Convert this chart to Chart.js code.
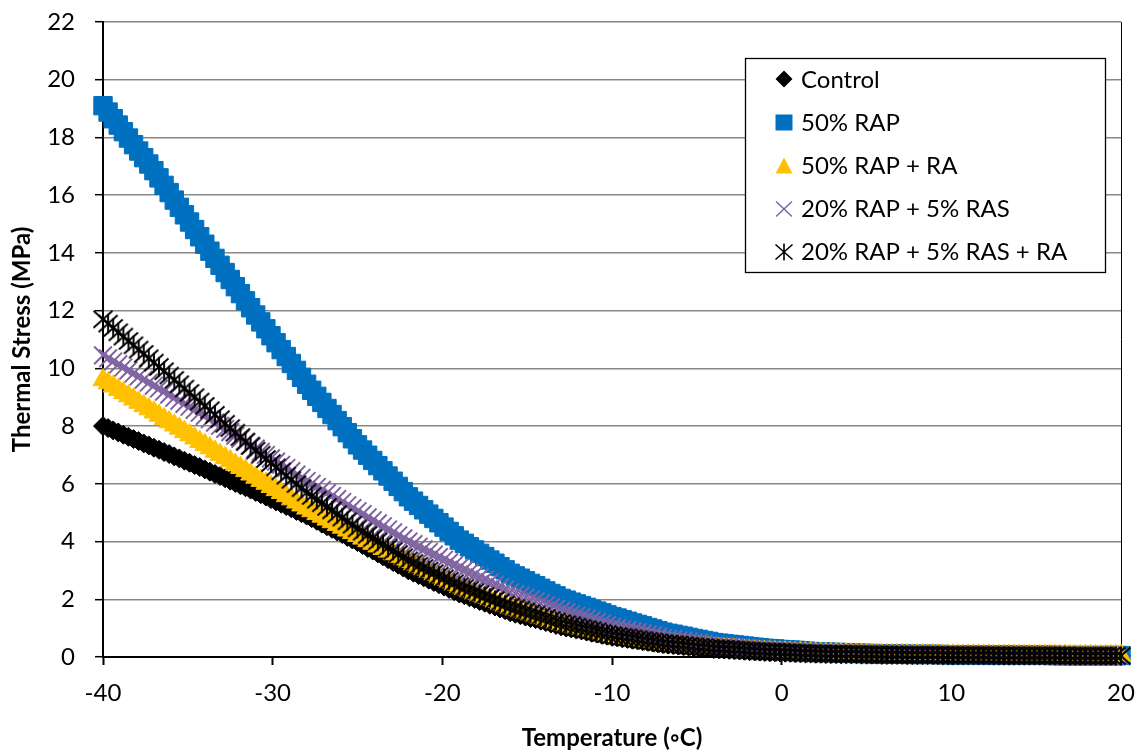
<!DOCTYPE html>
<html>
<head>
<meta charset="utf-8">
<script src="https://cdn.jsdelivr.net/npm/chart.js@4.4.1/dist/chart.umd.min.js"></script>
<style>
  html, body { margin: 0; padding: 0; background: #ffffff; }
  #wrap { width: 1141px; height: 754px; }
</style>
</head>
<body>
<div id="wrap"><canvas id="chart" width="1141" height="754"></canvas></div>
<script>
// Temperature (°C) sampling points shared by all mixes
const temperatures = [
  -40,-39.7,-39.4,-39.1,-38.8,-38.5,-38.2,-37.9,-37.6,-37.3,
  -37,-36.7,-36.4,-36.1,-35.8,-35.5,-35.2,-34.9,-34.6,-34.3,
  -34,-33.7,-33.4,-33.1,-32.8,-32.5,-32.2,-31.9,-31.6,-31.3,
  -31,-30.7,-30.4,-30.1,-29.8,-29.5,-29.2,-28.9,-28.6,-28.3,
  -28,-27.7,-27.4,-27.1,-26.8,-26.5,-26.2,-25.9,-25.6,-25.3,
  -25,-24.7,-24.4,-24.1,-23.8,-23.5,-23.2,-22.9,-22.6,-22.3,
  -22,-21.7,-21.4,-21.1,-20.8,-20.5,-20.2,-19.9,-19.6,-19.3,
  -19,-18.7,-18.4,-18.1,-17.8,-17.5,-17.2,-16.9,-16.6,-16.3,
  -16,-15.7,-15.4,-15.1,-14.8,-14.5,-14.2,-13.9,-13.6,-13.3,
  -13,-12.7,-12.4,-12.1,-11.8,-11.5,-11.2,-10.9,-10.6,-10.3,
  -10,-9.7,-9.4,-9.1,-8.8,-8.5,-8.2,-7.9,-7.6,-7.3,
  -7,-6.7,-6.4,-6.1,-5.8,-5.5,-5.2,-4.9,-4.6,-4.3,
  -4,-3.7,-3.4,-3.1,-2.8,-2.5,-2.2,-1.9,-1.6,-1.3,
  -1,-0.7,-0.4,-0.1,0.2,0.5,0.8,1.1,1.4,1.7,
  2,2.3,2.6,2.9,3.2,3.5,3.8,4.1,4.4,4.7,
  5,5.3,5.6,5.9,6.2,6.5,6.8,7.1,7.4,7.7,
  8,8.3,8.6,8.9,9.2,9.5,9.8,10.1,10.4,10.7,
  11,11.3,11.6,11.9,12.2,12.5,12.8,13.1,13.4,13.7,
  14,14.3,14.6,14.9,15.2,15.5,15.8,16.1,16.4,16.7,
  17,17.3,17.6,17.9,18.2,18.5,18.8,19.1,19.4,19.7,
  20
];

// Thermal stress (MPa) per mix
const controlStress = [
  8.0,7.93,7.85,7.78,7.7,7.63,7.55,7.48,7.4,7.33,
  7.25,7.18,7.1,7.03,6.95,6.88,6.8,6.73,6.65,6.58,
  6.5,6.42,6.34,6.27,6.19,6.11,6.03,5.95,5.88,5.8,
  5.72,5.64,5.56,5.47,5.39,5.31,5.23,5.15,5.06,4.98,
  4.9,4.81,4.72,4.62,4.53,4.44,4.35,4.26,4.16,4.07,
  3.98,3.88,3.78,3.69,3.59,3.49,3.39,3.29,3.2,3.1,
  3.0,2.92,2.84,2.76,2.68,2.6,2.52,2.44,2.36,2.28,
  2.2,2.14,2.07,2.01,1.94,1.88,1.81,1.75,1.68,1.62,
  1.55,1.5,1.45,1.4,1.35,1.31,1.26,1.21,1.16,1.11,
  1.06,1.02,0.99,0.95,0.92,0.88,0.84,0.81,0.77,0.74,
  0.7,0.68,0.65,0.63,0.6,0.58,0.55,0.53,0.5,0.48,
  0.45,0.43,0.42,0.4,0.38,0.37,0.35,0.33,0.31,0.3,
  0.28,0.27,0.26,0.25,0.24,0.23,0.22,0.21,0.2,0.19,
  0.18,0.17,0.17,0.16,0.16,0.15,0.14,0.14,0.13,0.13,
  0.12,0.12,0.11,0.11,0.11,0.1,0.1,0.1,0.1,0.09,
  0.09,0.09,0.09,0.08,0.08,0.08,0.08,0.08,0.07,0.07,
  0.07,0.07,0.07,0.07,0.07,0.06,0.06,0.06,0.06,0.06,
  0.06,0.06,0.06,0.06,0.06,0.05,0.05,0.05,0.05,0.05,
  0.05,0.05,0.05,0.05,0.05,0.05,0.05,0.05,0.05,0.05,
  0.04,0.04,0.04,0.04,0.04,0.04,0.04,0.04,0.04,0.04,
  0.04
];

const rap50Stress = [
  19.1,18.88,18.65,18.43,18.2,17.98,17.75,17.53,17.3,17.08,
  16.85,16.6,16.34,16.09,15.83,15.58,15.32,15.07,14.81,14.56,
  14.3,14.06,13.81,13.57,13.32,13.08,12.83,12.59,12.34,12.1,
  11.85,11.61,11.37,11.13,10.89,10.65,10.41,10.17,9.93,9.69,
  9.45,9.24,9.03,8.82,8.61,8.4,8.19,7.98,7.77,7.56,
  7.35,7.17,6.99,6.81,6.63,6.45,6.27,6.09,5.91,5.73,
  5.55,5.4,5.25,5.1,4.95,4.8,4.65,4.5,4.35,4.2,
  4.05,3.94,3.82,3.71,3.59,3.48,3.36,3.25,3.13,3.02,
  2.9,2.81,2.73,2.64,2.55,2.47,2.38,2.29,2.2,2.12,
  2.03,1.97,1.9,1.84,1.78,1.72,1.65,1.59,1.53,1.46,
  1.4,1.35,1.29,1.24,1.18,1.13,1.08,1.02,0.97,0.91,
  0.86,0.82,0.79,0.75,0.72,0.68,0.64,0.61,0.57,0.54,
  0.5,0.48,0.46,0.44,0.42,0.4,0.38,0.36,0.34,0.32,
  0.3,0.29,0.28,0.26,0.25,0.24,0.23,0.22,0.2,0.19,
  0.18,0.17,0.17,0.16,0.16,0.15,0.14,0.14,0.13,0.13,
  0.12,0.12,0.11,0.11,0.11,0.1,0.1,0.1,0.1,0.09,
  0.09,0.09,0.09,0.09,0.09,0.08,0.08,0.08,0.08,0.08,
  0.08,0.08,0.08,0.07,0.07,0.07,0.07,0.07,0.06,0.06,
  0.06,0.06,0.06,0.06,0.06,0.06,0.06,0.05,0.05,0.05,
  0.05,0.05,0.05,0.05,0.05,0.05,0.05,0.05,0.05,0.05,
  0.05
];

const rap50RaStress = [
  9.6,9.49,9.38,9.26,9.15,9.04,8.93,8.82,8.7,8.59,
  8.48,8.37,8.25,8.14,8.03,7.92,7.8,7.69,7.58,7.46,
  7.35,7.24,7.12,7.01,6.9,6.79,6.67,6.56,6.45,6.33,
  6.22,6.11,6.01,5.9,5.79,5.69,5.58,5.47,5.36,5.26,
  5.15,5.06,4.96,4.87,4.77,4.68,4.58,4.49,4.39,4.3,
  4.2,4.11,4.02,3.93,3.84,3.75,3.66,3.57,3.48,3.39,
  3.3,3.21,3.12,3.04,2.95,2.86,2.77,2.68,2.6,2.51,
  2.42,2.35,2.28,2.2,2.13,2.06,1.99,1.92,1.84,1.77,
  1.7,1.64,1.59,1.53,1.48,1.42,1.36,1.31,1.25,1.2,
  1.14,1.1,1.06,1.02,0.98,0.94,0.9,0.86,0.82,0.78,
  0.74,0.71,0.69,0.66,0.63,0.61,0.58,0.55,0.52,0.5,
  0.47,0.45,0.43,0.42,0.4,0.38,0.36,0.34,0.33,0.31,
  0.29,0.28,0.27,0.26,0.25,0.24,0.22,0.21,0.2,0.19,
  0.18,0.17,0.17,0.16,0.16,0.15,0.14,0.14,0.13,0.13,
  0.12,0.12,0.11,0.11,0.11,0.1,0.1,0.1,0.1,0.09,
  0.09,0.09,0.09,0.08,0.08,0.08,0.08,0.08,0.07,0.07,
  0.07,0.07,0.07,0.07,0.07,0.06,0.06,0.06,0.06,0.06,
  0.06,0.06,0.06,0.06,0.06,0.05,0.05,0.05,0.05,0.05,
  0.05,0.05,0.05,0.05,0.05,0.05,0.05,0.05,0.05,0.05,
  0.04,0.04,0.04,0.04,0.04,0.04,0.04,0.04,0.04,0.04,
  0.04
];

const rap20Ras5Stress = [
  10.45,10.35,10.24,10.14,10.03,9.93,9.82,9.72,9.61,9.51,
  9.4,9.3,9.19,9.09,8.98,8.88,8.77,8.67,8.56,8.46,
  8.35,8.24,8.12,8.01,7.9,7.79,7.67,7.56,7.45,7.33,
  7.22,7.11,7.0,6.88,6.77,6.66,6.55,6.44,6.32,6.21,
  6.1,6.0,5.89,5.79,5.68,5.58,5.47,5.37,5.26,5.16,
  5.05,4.95,4.84,4.74,4.63,4.53,4.42,4.32,4.21,4.11,
  4.0,3.91,3.82,3.73,3.64,3.55,3.46,3.37,3.28,3.19,
  3.1,3.02,2.93,2.85,2.76,2.68,2.59,2.51,2.42,2.34,
  2.25,2.19,2.12,2.06,1.99,1.93,1.86,1.8,1.73,1.67,
  1.6,1.55,1.49,1.44,1.38,1.33,1.27,1.22,1.16,1.11,
  1.05,1.01,0.97,0.93,0.89,0.86,0.82,0.78,0.74,0.7,
  0.66,0.63,0.61,0.58,0.56,0.53,0.5,0.48,0.45,0.43,
  0.4,0.39,0.37,0.36,0.34,0.33,0.31,0.3,0.28,0.27,
  0.25,0.24,0.23,0.22,0.21,0.21,0.2,0.19,0.18,0.17,
  0.16,0.16,0.15,0.15,0.14,0.14,0.13,0.13,0.12,0.12,
  0.11,0.11,0.11,0.1,0.1,0.1,0.1,0.1,0.09,0.09,
  0.09,0.09,0.09,0.08,0.08,0.08,0.08,0.08,0.07,0.07,
  0.07,0.07,0.07,0.07,0.07,0.06,0.06,0.06,0.06,0.06,
  0.05,0.05,0.05,0.05,0.05,0.05,0.05,0.05,0.05,0.05,
  0.04,0.04,0.04,0.04,0.04,0.04,0.04,0.04,0.04,0.04,
  0.04
];

const rap20Ras5RaStress = [
  11.7,11.55,11.4,11.25,11.1,10.95,10.8,10.65,10.5,10.35,
  10.2,10.05,9.9,9.75,9.6,9.45,9.3,9.15,9.0,8.85,
  8.7,8.55,8.39,8.24,8.08,7.93,7.77,7.62,7.46,7.31,
  7.15,7.01,6.86,6.72,6.57,6.43,6.28,6.14,5.99,5.85,
  5.7,5.58,5.45,5.33,5.2,5.08,4.95,4.83,4.7,4.58,
  4.45,4.34,4.23,4.12,4.01,3.9,3.79,3.68,3.57,3.46,
  3.35,3.26,3.17,3.09,3.0,2.91,2.82,2.73,2.65,2.56,
  2.47,2.4,2.33,2.25,2.18,2.11,2.04,1.97,1.89,1.82,
  1.75,1.69,1.64,1.58,1.52,1.47,1.41,1.35,1.29,1.24,
  1.18,1.14,1.1,1.05,1.01,0.97,0.93,0.89,0.84,0.8,
  0.76,0.73,0.7,0.68,0.65,0.62,0.59,0.56,0.54,0.51,
  0.48,0.46,0.44,0.43,0.41,0.39,0.37,0.35,0.34,0.32,
  0.3,0.29,0.28,0.27,0.26,0.25,0.23,0.22,0.21,0.2,
  0.19,0.18,0.18,0.17,0.16,0.16,0.15,0.14,0.13,0.13,
  0.12,0.12,0.11,0.11,0.11,0.1,0.1,0.1,0.1,0.09,
  0.09,0.09,0.09,0.08,0.08,0.08,0.08,0.08,0.07,0.07,
  0.07,0.07,0.07,0.07,0.07,0.06,0.06,0.06,0.06,0.06,
  0.06,0.06,0.06,0.06,0.06,0.05,0.05,0.05,0.05,0.05,
  0.05,0.05,0.05,0.05,0.05,0.05,0.05,0.05,0.05,0.05,
  0.04,0.04,0.04,0.04,0.04,0.04,0.04,0.04,0.04,0.04,
  0.04
];

const seriesNames = ['Control', '50% RAP', '50% RAP + RA', '20% RAP + 5% RAS', '20% RAP + 5% RAS + RA'];
const xTicks = [-40, -30, -20, -10, 0, 10, 20];
const yTicks = [0, 2, 4, 6, 8, 10, 12, 14, 16, 18, 20, 22];

const FONT = 'Lato, "Open Sans", "Liberation Sans", sans-serif';
const COLORS = { control: '#000000', rap50: '#0070C0', rap50Ra: '#FFC000', rap20: '#8064A2', rap20Ra: '#000000' };

// Six-armed star marker (X plus a vertical bar)
function asteriskMarker(color, size, lw) {
  const c = document.createElement('canvas');
  c.width = size; c.height = size;
  const g = c.getContext('2d');
  const m = size / 2, a = m - 1.5, b = m - 2.5;
  g.strokeStyle = color;
  g.lineWidth = lw;
  g.beginPath();
  g.moveTo(m - a, m - b); g.lineTo(m + a, m + b);
  g.moveTo(m - a, m + b); g.lineTo(m + a, m - b);
  g.moveTo(m, m - a); g.lineTo(m, m + a);
  g.stroke();
  return c;
}
const starImg = asteriskMarker(COLORS.rap20Ra, 22, 1.9);
const starLegend = asteriskMarker(COLORS.rap20Ra, 20, 1.6);

function toPoints(values) {
  const pts = [];
  for (let i = 0; i < Math.min(values.length, temperatures.length); i++) {
    pts.push({ x: temperatures[i], y: values[i] });
  }
  return pts;
}

// Plot-area right border, drawn beneath the markers
const frameBorder = {
  id: 'frameBorder',
  beforeDatasetsDraw(chart) {
    const { ctx, chartArea: a } = chart;
    ctx.save();
    ctx.strokeStyle = '#000';
    ctx.lineWidth = 1;
    ctx.beginPath();
    ctx.moveTo(Math.round(a.right) + 0.5, a.top);
    ctx.lineTo(Math.round(a.right) + 0.5, a.bottom);
    ctx.stroke();
    ctx.restore();
  }
};

// Boxed legend in the upper right of the plot
const boxLegend = {
  id: 'boxLegend',
  afterDraw(chart) {
    const ctx = chart.ctx;
    const bx = 745, by = 58, bw = 360, bh = 214;
    ctx.save();
    ctx.fillStyle = '#fff';
    ctx.fillRect(bx, by, bw, bh);
    ctx.strokeStyle = '#000';
    ctx.lineWidth = 1.3;
    ctx.strokeRect(bx + 0.5, by + 0.5, bw, bh);

    const mx = 784, tx = 801;
    const rowY = [79, 122.5, 166, 209, 252];
    const baseY = [88, 131, 174, 217, 260];

    // diamond
    ctx.fillStyle = COLORS.control;
    ctx.beginPath();
    ctx.moveTo(mx, rowY[0] - 8.5); ctx.lineTo(mx + 8.5, rowY[0]);
    ctx.lineTo(mx, rowY[0] + 8.5); ctx.lineTo(mx - 8.5, rowY[0]);
    ctx.closePath(); ctx.fill();
    // square
    ctx.fillStyle = COLORS.rap50;
    ctx.fillRect(mx - 8.5, rowY[1] - 8, 17, 16);
    // triangle
    ctx.fillStyle = COLORS.rap50Ra;
    ctx.beginPath();
    ctx.moveTo(mx, rowY[2] - 8.5); ctx.lineTo(mx + 8.5, rowY[2] + 7.5);
    ctx.lineTo(mx - 8.5, rowY[2] + 7.5); ctx.closePath(); ctx.fill();
    // x
    ctx.strokeStyle = COLORS.rap20;
    ctx.lineWidth = 1.5;
    ctx.beginPath();
    ctx.moveTo(mx - 8, rowY[3] - 7.5); ctx.lineTo(mx + 8, rowY[3] + 7.5);
    ctx.moveTo(mx - 8, rowY[3] + 7.5); ctx.lineTo(mx + 8, rowY[3] - 7.5);
    ctx.stroke();
    // star
    ctx.drawImage(starLegend, mx - 10, rowY[4] - 10);

    ctx.fillStyle = '#000';
    ctx.font = '24px ' + FONT;
    ctx.textAlign = 'left';
    ctx.textBaseline = 'alphabetic';
    seriesNames.forEach((n, i) => ctx.fillText(n, tx, baseY[i]));
    ctx.restore();
  }
};

const tickFont = { family: FONT, size: 24 };
const titleFont = { family: FONT, size: 24, weight: 'bold', lineHeight: 1 };

new Chart(document.getElementById('chart'), {
  type: 'scatter',
  data: {
    // listed top-most first: the last-named mix is drawn above the others
    datasets: [
      { label: seriesNames[4], data: toPoints(rap20Ras5RaStress), pointStyle: starImg,
        pointRadius: 11, borderColor: COLORS.rap20Ra, backgroundColor: COLORS.rap20Ra, clip: false },
      { label: seriesNames[3], data: toPoints(rap20Ras5Stress), pointStyle: 'crossRot',
        pointRadius: 12.5, pointBorderWidth: 2, borderColor: COLORS.rap20, backgroundColor: COLORS.rap20, clip: false },
      { label: seriesNames[2], data: toPoints(rap50RaStress), pointStyle: 'triangle',
        pointRadius: 11.5, pointBorderWidth: 1, borderColor: COLORS.rap50Ra, backgroundColor: COLORS.rap50Ra, clip: false },
      { label: seriesNames[1], data: toPoints(rap50Stress), pointStyle: 'rect',
        pointRadius: 13, pointBorderWidth: 1, borderColor: COLORS.rap50, backgroundColor: COLORS.rap50, clip: false },
      { label: seriesNames[0], data: toPoints(controlStress), pointStyle: 'rectRot',
        pointRadius: 9.5, pointBorderWidth: 1, borderColor: COLORS.control, backgroundColor: COLORS.control, clip: false }
    ]
  },
  options: {
    responsive: false,
    animation: false,
    devicePixelRatio: 1,
    events: [],
    layout: { padding: { top: 22, right: 20, left: 0, bottom: 0 } },
    plugins: { legend: { display: false }, tooltip: { enabled: false } },
    scales: {
      x: {
        type: 'linear',
        min: -40, max: 20,
        afterFit(scale) { scale.height = 97; scale.paddingLeft = 0; scale.paddingRight = 0; },
        afterBuildTicks(scale) { scale.ticks = xTicks.map(v => ({ value: v })); },
        grid: { drawOnChartArea: false, drawTicks: true, tickLength: 8, tickColor: '#000', tickWidth: 2 },
        border: { color: '#000', width: 2 },
        ticks: { font: tickFont, color: '#000', padding: 14, maxRotation: 0, autoSkip: false },
        title: { display: true, text: 'Temperature (◦C)', font: titleFont, color: '#000', padding: { top: 0, bottom: 4 } }
      },
      y: {
        type: 'linear',
        min: 0, max: 22,
        afterFit(scale) { scale.width = 103; scale.paddingTop = 0; scale.paddingBottom = 0; },
        afterBuildTicks(scale) { scale.ticks = yTicks.map(v => ({ value: v })); },
        grid: { color: '#878787', lineWidth: 1.4, drawTicks: true, tickLength: 8, tickColor: '#000', tickWidth: 1.5 },
        border: { color: '#000', width: 2 },
        ticks: { font: tickFont, color: '#000', padding: 20, autoSkip: false },
        title: { display: true, text: 'Thermal Stress (MPa)', font: titleFont, color: '#000', padding: { top: 10, bottom: 0 } }
      }
    }
  },
  plugins: [frameBorder, boxLegend]
});
</script>
</body>
</html>
